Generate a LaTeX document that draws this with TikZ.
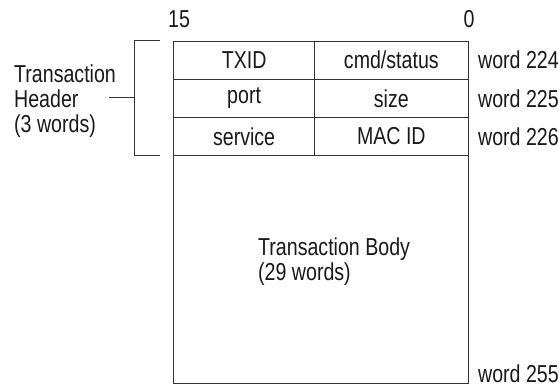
\documentclass[tikz,border=0pt]{standalone}
\usepackage{fontspec}
\setmainfont{Liberation Sans}[FakeStretch=0.8]
\definecolor{linec}{gray}{0.2}
\definecolor{textc}{gray}{0.1}
\newcommand{\lblfont}{\fontsize{24.5}{25}\selectfont}
\begin{document}
\begin{tikzpicture}[x=1pt,y=-1pt,
  every node/.style={inner sep=0pt, text=textc, font=\lblfont},
  lcell/.style={draw=linec, line width=0.9pt, anchor=north west, minimum width=141.3pt, minimum height=38.1pt},
  rcell/.style={lcell, minimum width=153.2pt},
  bodybox/.style={draw=linec, line width=0.9pt, anchor=north west, minimum width=294.5pt, minimum height=228pt},
  wordlbl/.style={anchor=west},
  bracket/.style={draw=linec, line width=0.9pt}
]
\useasboundingbox (0,0) rectangle (559,387);

% header cells
\node[lcell] (txid) at (173,40.7) {TXID};
\node[rcell] (cmd)  at (314.3,40.7) {cmd/status};
\node[lcell] (port) at (173,78.8) {port};
\node[rcell] (size) at (314.3,78.8) {size};
\node[lcell] (serv) at (173,116.9) {service};
\node[rcell] (mac)  at (314.3,116.9) {MAC ID};
% body
\node[bodybox] (body) at (173,155) {};
\node[anchor=west, align=left] (bodytxt) at (258,261.5) {Transaction Body\\(29 words)};

% bit numbers
\node (b15) at (179,19) {15};
\node (b0) at (469,19) {0};

% word labels
\node[wordlbl] (w224) at ([xshift=9.5pt]cmd.east) {word 224};
\node[wordlbl] (w225) at ([xshift=9.5pt]size.east) {word 225};
\node[wordlbl] (w226) at ([xshift=9.5pt]mac.east) {word 226};
\node[anchor=base west] (w255) at ([xshift=9.5pt,yshift=1pt]body.south east) {word 255};

% header bracket and label
\node[anchor=west, align=left] (hdr) at (14,101.5) {Transaction\\Header\\(3 words)};
\coordinate (btop) at (160,40.7);
\coordinate (bbot) at (160,155);
\coordinate (bmid) at (134.3,97);
\coordinate (tick) at (109,97);
\draw[bracket] (btop) -- (134.3,40.7) -- (134.3,155) -- (bbot);
\draw[bracket] (tick) -- (bmid);
\end{tikzpicture}
\end{document}
